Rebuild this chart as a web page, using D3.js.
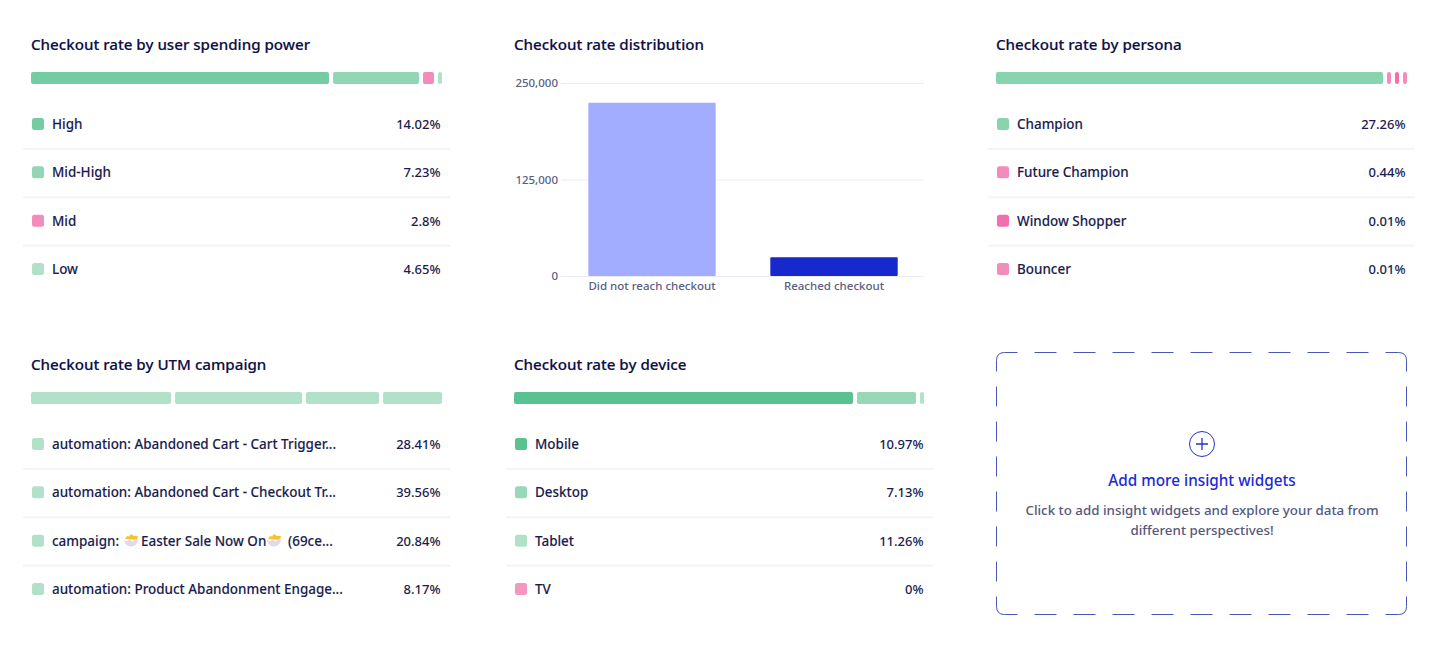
<!DOCTYPE html>
<html>
<head>
<meta charset="utf-8">
<script src="https://cdn.jsdelivr.net/npm/d3@7"></script>
<style>
  body { margin: 0; background: #fff; }
  text { font-family: "Noto Sans", sans-serif; }
  .title { font-size: 15.15px; font-weight: 500; fill: #0c0e45; stroke: #0c0e45; stroke-width: 0.15px; }
  .row-label { font-size: 13.45px; font-weight: 500; fill: #1a1c4e; stroke: #1a1c4e; stroke-width: 0.1px; }
  .row-value { font-size: 13px; font-weight: 500; fill: #1a1c4e; }
  .axis text { font-size: 11.5px; font-weight: 500; fill: #5b5e80; }
  .axis path, .axis line { stroke: #e9eaf5; }
</style>
</head>
<body>
<svg id="vis-svg"></svg>
<script>
  // Widget data
  const spendingLabels = ["High", "Mid-High", "Mid", "Low"];
  const spendingRates = ["14.02%", "7.23%", "2.8%", "4.65%"];
  const spendingShares = [298, 86, 11, 4];
  const spendingColors = ["#75cba2", "#93d6b5", "#f48cbb", "#b1e2c9"];

  const personaLabels = ["Champion", "Future Champion", "Window Shopper", "Bouncer"];
  const personaRates = ["27.26%", "0.44%", "0.01%", "0.01%"];
  const personaShares = [387, 4, 4, 4];
  const personaColors = ["#88d4af", "#f48cbb", "#f06fac", "#f48cbb"];

  const campaignLabels = [
    "automation: Abandoned Cart - Cart Trigger...",
    "automation: Abandoned Cart - Checkout Tr...",
    "campaign:",
    "automation: Product Abandonment Engage..."
  ];
  const campaignRates = ["28.41%", "39.56%", "20.84%", "8.17%"];
  const campaignShares = [140, 127, 73, 59];
  const campaignColors = ["#b1e2c9", "#b1e2c9", "#b1e2c9", "#b1e2c9"];

  const deviceLabels = ["Mobile", "Desktop", "Tablet", "TV"];
  const deviceRates = ["10.97%", "7.13%", "11.26%", "0%"];
  const deviceShares = [339, 59, 4];
  const deviceColors = ["#5ac190", "#98d8b8", "#b1e2c9", "#f596c0"];

  const distCategories = ["Did not reach checkout", "Reached checkout"];
  const distValues = [224500, 24200];
  const distColors = ["#a3adff", "#1729cc"];
  const distTicks = [0, 125000, 250000];

  // Layout
  const width = 1450;
  const height = 648;
  const svg = d3.select("#vis-svg").attr("width", width).attr("height", height);

  function drawListWidget(x, y, title, labels, rates, shares, colors) {
    const g = svg.append("g").attr("transform", `translate(${x},${y})`);

    g.append("text").attr("class", "title").attr("x", 31).attr("y", 50).text(title);

    // Stacked bar, 4px gap between the segments
    const gap = 4;
    const barWidth = d3.sum(shares);
    const barScale = d3.scaleLinear().domain([0, d3.sum(shares)]).range([0, barWidth]);
    let used = 0;
    shares.forEach((s, i) => {
      g.append("rect")
        .attr("x", 31 + barScale(used) + i * gap)
        .attr("y", 72)
        .attr("width", barScale(s))
        .attr("height", 12)
        .attr("rx", Math.min(2, barScale(s) / 2))
        .attr("fill", colors[i]);
      used += s;
    });

    const rowY = d3.scalePoint().domain(d3.range(labels.length)).range([124, 269]);
    labels.forEach((label, i) => {
      const cy = rowY(i);
      g.append("rect")
        .attr("x", 32).attr("y", cy - 6)
        .attr("width", 12).attr("height", 12)
        .attr("rx", 2.5)
        .attr("fill", colors[i]);
      g.append("text").attr("class", "row-label")
        .attr("x", 52).attr("y", cy + 5).text(label);
      g.append("text").attr("class", "row-value")
        .attr("x", 440.5).attr("y", cy + 5)
        .attr("text-anchor", "end").text(rates[i]);
      if (i < labels.length - 1) {
        g.append("line")
          .attr("x1", 23).attr("x2", 450)
          .attr("y1", cy + 25).attr("y2", cy + 25)
          .attr("stroke", "#f3f3fd").attr("stroke-width", 2);
      }
    });
    return g;
  }

  // Hatching chick icon, stands in for the emoji
  function drawChick(g, cx, cy) {
    const c = g.append("g").attr("transform", `translate(${cx},${cy})`);
    c.append("path").attr("d", "M-6 -2 L-4 -5 L-2 -4.5 L0 -7 L3 -5 L7 -5 L6 -1 Z").attr("fill", "#f4c430");
    c.append("path").attr("d", "M-7 -1.5 L-4 0.5 L-1.5 -2 L1.5 0.5 L4 -2 L7 -1.5 A7 7 0 0 1 -7 -1.5 Z").attr("fill", "#e2d8ea");
  }

  drawListWidget(0, 0, "Checkout rate by user spending power", spendingLabels, spendingRates, spendingShares, spendingColors);
  drawListWidget(965, 0, "Checkout rate by persona", personaLabels, personaRates, personaShares, personaColors);
  drawListWidget(483, 320, "Checkout rate by device", deviceLabels, deviceRates, deviceShares, deviceColors);
  const campaign = drawListWidget(0, 320, "Checkout rate by UTM campaign", campaignLabels, campaignRates, campaignShares, campaignColors);

  // Third campaign row has emoji in its name
  drawChick(campaign, 131, 221);
  campaign.append("text").attr("class", "row-label").attr("x", 141).attr("y", 226).text("Easter Sale Now On");
  drawChick(campaign, 274, 221);
  campaign.append("text").attr("class", "row-label").attr("x", 288).attr("y", 226).text("(69ce...");

  // Distribution bar chart
  const dist = svg.append("g");
  dist.append("text").attr("class", "title").attr("x", 514).attr("y", 50).text("Checkout rate distribution");

  const y = d3.scaleLinear().domain([0, 250000]).range([276, 83]);
  const x = d3.scaleBand().domain(distCategories).range([561, 925]).paddingInner(0.3).paddingOuter(0.15);

  dist.append("g").attr("class", "axis")
    .attr("transform", "translate(561,0)")
    .call(d3.axisLeft(y).tickValues(distTicks).tickSize(-363).tickPadding(3).tickFormat(d3.format(",")))
    .call(a => a.select(".domain").remove());

  dist.selectAll("rect.bar")
    .data(distCategories)
    .enter()
    .append("rect")
    .attr("class", "bar")
    .attr("x", d => x(d))
    .attr("y", (d, i) => y(distValues[i]))
    .attr("width", x.bandwidth())
    .attr("height", (d, i) => y(0) - y(distValues[i]))
    .attr("rx", 1)
    .attr("fill", (d, i) => distColors[i]);

  dist.append("g").attr("class", "axis")
    .attr("transform", "translate(0,276)")
    .call(d3.axisBottom(x).tickSize(0).tickPadding(6))
    .call(a => a.select(".domain").remove());

  // Add-widget placeholder
  const box = svg.append("g").attr("fill", "none").attr("stroke", "#4a56b8").attr("stroke-width", 1);
  const [bx0, bx1, by0, by1, r] = [996.5, 1406.5, 352.5, 614.5, 8];
  const side = (x1, y1, x2, y2, dash) => box.append("line")
    .attr("x1", x1).attr("y1", y1).attr("x2", x2).attr("y2", y2)
    .attr("stroke-dasharray", dash).attr("stroke-dashoffset", 9);
  side(bx0 + r, by0, bx1 - r, by0, "22 17");
  side(bx0 + r, by1, bx1 - r, by1, "22 17");
  side(bx0, by0 + r, bx0, by1 - r, "20 15");
  side(bx1, by0 + r, bx1, by1 - r, "20 15");
  [[bx0, by0, 1, 1], [bx1, by0, -1, 1], [bx0, by1, 1, -1], [bx1, by1, -1, -1]].forEach(([cx, cy, sx, sy]) => {
    const p = d3.path();
    p.moveTo(cx, cy + sy * r);
    p.quadraticCurveTo(cx, cy, cx + sx * r, cy);
    box.append("path").attr("d", p.toString());
  });

  const plus = svg.append("g").attr("transform", "translate(1202,444)").attr("stroke", "#2233c8").attr("fill", "none");
  plus.append("circle").attr("r", 12.5);
  plus.append("path").attr("d", "M-6 0H6M0 -6V6").attr("stroke-width", 1.3);

  svg.append("text").attr("x", 1202).attr("y", 485.5).attr("text-anchor", "middle")
    .attr("font-size", 15.3).attr("font-weight", 500).attr("fill", "#1c2bd0")
    .text("Add more insight widgets");
  svg.selectAll("text.hint")
    .data(["Click to add insight widgets and explore your data from", "different perspectives!"])
    .enter()
    .append("text")
    .attr("class", "hint")
    .attr("x", 1202)
    .attr("y", (d, i) => 515 + i * 20)
    .attr("text-anchor", "middle")
    .attr("font-size", 13.35)
    .attr("font-weight", 500)
    .attr("fill", "#55587c")
    .text(d => d);
</script>
</body>
</html>
